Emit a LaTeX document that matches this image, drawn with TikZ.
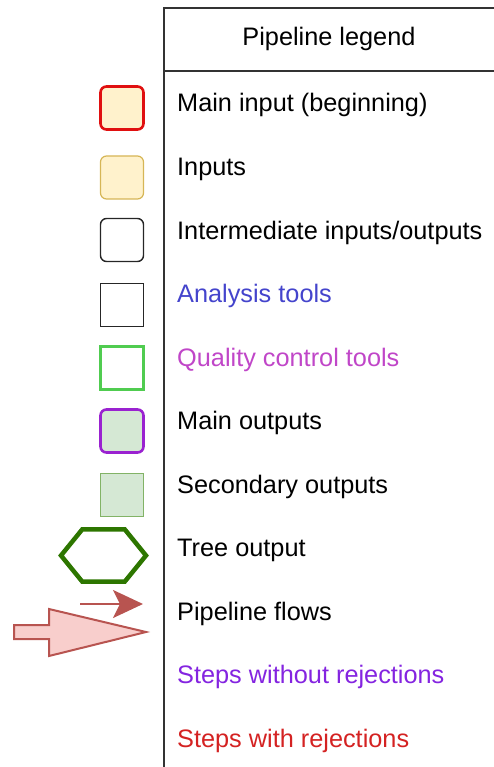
\documentclass[tikz,border=0pt]{standalone}
\usepackage{fontspec}
\setmainfont{Liberation Sans}
\usetikzlibrary{positioning,arrows.meta,shapes.geometric}

\definecolor{inputfill}{HTML}{FFF2CC}
\definecolor{inputdraw}{HTML}{D6B656}
\definecolor{maininred}{HTML}{E01010}
\definecolor{qcgreen}{HTML}{50CC50}
\definecolor{outpurple}{HTML}{9A22D0}
\definecolor{outfill}{HTML}{D5E8D4}
\definecolor{outdraw}{HTML}{82B366}
\definecolor{treegreen}{HTML}{2D7600}
\definecolor{flowdraw}{HTML}{B85450}
\definecolor{flowfill}{HTML}{F8CECC}
\definecolor{tooltext}{HTML}{4444CC}
\definecolor{qctext}{HTML}{C046C8}
\definecolor{norejtext}{HTML}{8424E0}
\definecolor{rejtext}{HTML}{D42222}

\begin{document}
\begin{tikzpicture}[x=1pt,y=-1pt,>=Stealth]
\tikzset{
  entry/.style={anchor=base west, inner sep=0pt, font=\fontsize{25.3}{30}\selectfont},
  icon/.style={rectangle, minimum width=43pt, minimum height=43pt, inner sep=0pt},
  roundicon/.style={icon, rounded corners=6pt},
  frameline/.style={draw=black!80, line width=1.6pt}
}
\useasboundingbox (0,0) rectangle (494,767);

% Legend frame
\coordinate (frametl) at (164,8);
\coordinate (frametr) at (494,8);
\coordinate (framebl) at (164,767);
\coordinate (headl) at (164,71);
\coordinate (headr) at (494,71);
\draw[frameline] (frametr) -- (frametl) -- (framebl);
\draw[frameline] (headl) -- (headr);
\node[entry, anchor=center] (title) at (329,39) {Pipeline legend};

% Labels
\node[entry] (lmainin) at (177,112) {Main input (beginning)};
\node[entry] (linputs) at (177,175.5) {Inputs};
\node[entry] (linter) at (177,239) {Intermediate inputs/outputs};
\node[entry, text=tooltext] (ltools) at (177,302.5) {Analysis tools};
\node[entry, text=qctext] (lqc) at (177,366) {Quality control tools};
\node[entry] (lmainout) at (177,429.5) {Main outputs};
\node[entry] (lsecout) at (177,493) {Secondary outputs};
\node[entry] (ltree) at (177,556.5) {Tree output};
\node[entry] (lflows) at (177,620) {Pipeline flows};
\node[entry, text=norejtext] (lnorej) at (177,683.5) {Steps without rejections};
\node[entry, text=rejtext] (lrej) at (177,747) {Steps with rejections};

% Icons
\node[roundicon, draw=maininred, line width=2.6pt, fill=inputfill] (imainin) at (122,108) {};
\node[roundicon, draw=inputdraw, line width=1.2pt, fill=inputfill] (iinputs) at (122,177.5) {};
\node[roundicon, draw=black!85, line width=1.4pt] (iinter) at (122,240) {};
\node[icon, draw=black!85, line width=1.4pt] (itools) at (122,305) {};
\node[icon, draw=qcgreen, line width=2.4pt] (iqc) at (122,368) {};
\node[roundicon, draw=outpurple, line width=2.6pt, fill=outfill] (imainout) at (122,431) {};
\node[icon, draw=outdraw, line width=1.2pt, fill=outfill] (isecout) at (122,495) {};
\node[regular polygon, regular polygon sides=6, shape border rotate=0, draw=treegreen,
  line width=4.5pt, minimum width=85pt, inner sep=0pt, yscale=0.71] (itree) at (103.5,555.5) {};

% Flow arrows
\coordinate (flowstart) at (80,604);
\coordinate (flowend) at (143,604);
\draw[->, draw=flowdraw, fill=flowdraw, line width=2.6pt,
  arrows={-Stealth[length=30pt, width=28pt, inset=7pt]}] (flowstart) -- (flowend);
\draw[draw=flowdraw, fill=flowfill, line width=2pt, line join=miter]
  (14,625) -- (49,625) -- (49,609) -- (146,632) -- (49,656) -- (49,639) -- (14,639) -- cycle;
\end{tikzpicture}
\end{document}
